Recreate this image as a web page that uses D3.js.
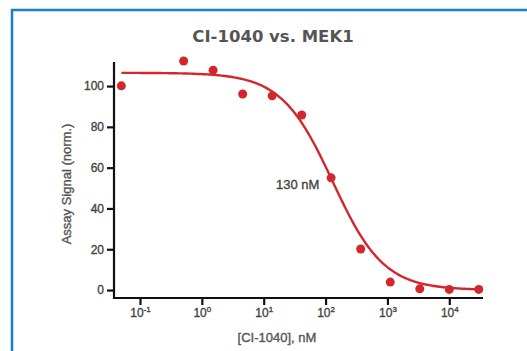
<!DOCTYPE html>
<html>
<head>
<meta charset="utf-8">
<script src="https://cdn.jsdelivr.net/npm/d3@7"></script>
<style>
  body { margin: 0; background: #fff; }
  svg { display: block; font-family: "Liberation Sans", Arial, sans-serif; }
</style>
</head>
<body>
<div id="chart"></div>
<script>
// concentrations (nM) and normalised signal
const conc = [0.05, 0.508, 1.52, 4.57, 13.7, 41.2, 123, 370, 1111, 3333, 10000, 30000];
const signal = [100.1, 112.3, 107.8, 96.1, 95.2, 85.8, 55, 20.1, 3.9, 0.6, 0.3, 0.3];
// fitted dose-response (4PL) parameters
const fitTop = 106.5, fitBottom = 0, fitIC50 = 130, fitHill = 1.05;
const yTicks = [0, 20, 40, 60, 80, 100];
const xTickExp = [-1, 0, 1, 2, 3, 4];

const W = 527, H = 351;
const svg = d3.select("#chart").append("svg").attr("width", W).attr("height", H);

// blue frame
svg.append("path")
  .attr("d", "M12,351 V10 H527")
  .attr("fill", "none").attr("stroke", "#1a7fc6").attr("stroke-width", 2.5);

const x = d3.scaleLog().domain([Math.pow(10, -1.42), Math.pow(10, 4.545)]).range([114, 483]);
const y = d3.scaleLinear().domain([-3.9, 111.8]).range([298, 62]);

// medium-weight text helper (normal face with a thin outline)
function med(sel, size, col) {
  return sel.attr("font-size", size).attr("fill", col).attr("stroke", col)
    .attr("stroke-width", 0.35).attr("font-weight", "normal")
    .attr("font-family", "Liberation Sans, Arial, sans-serif");
}

// title
svg.append("text").attr("x", 273).attr("y", 42).attr("text-anchor", "middle")
  .attr("font-family", "DejaVu Sans, Verdana, sans-serif")
  .attr("font-size", 16.5).attr("font-weight", "bold").attr("fill", "#555")
  .text("CI-1040 vs. MEK1");

// y axis
const yAx = svg.append("g").attr("transform", "translate(114,0)")
  .call(d3.axisLeft(y).tickValues(yTicks).tickSize(7).tickSizeOuter(0).tickPadding(3));
// x axis
const xAx = svg.append("g").attr("transform", "translate(0,298)")
  .call(d3.axisBottom(x).tickValues(xTickExp.map(e => Math.pow(10, e))).tickSize(7).tickSizeOuter(0).tickFormat(""));

[yAx, xAx].forEach(g => {
  g.select(".domain").attr("stroke", "#111").attr("stroke-width", 2.2);
  g.selectAll(".tick line").attr("stroke", "#111").attr("stroke-width", 2.2);
});
med(yAx.selectAll(".tick text"), 12, "#444");
xAx.select(".domain").attr("d", "M114,0H483");
yAx.select(".domain").attr("d", "M0,62V299");

// x tick labels as powers of ten
xAx.selectAll(".tick").each(function(d, i) {
  const t = med(d3.select(this).append("text").attr("y", 19).attr("text-anchor", "middle"), 12, "#444");
  t.append("tspan").text("10");
  t.append("tspan").attr("font-size", 8).attr("dy", -5).text(xTickExp[i] < 0 ? "-" + Math.abs(xTickExp[i]) : xTickExp[i]);
});

// axis titles
med(svg.append("text").attr("transform", "translate(71,184) rotate(-90)")
  .attr("text-anchor", "middle"), 13, "#555")
  .text("Assay Signal (norm.)");
med(svg.append("text").attr("x", 277).attr("y", 342).attr("text-anchor", "middle"), 13, "#555")
  .text("[CI-1040], nM");

// fitted curve
const fit = c => fitBottom + (fitTop - fitBottom) / (1 + Math.pow(c / fitIC50, fitHill));
const lx = d3.range(0, 201).map(i => Math.log10(conc[0]) + i / 200 * (Math.log10(conc[conc.length - 1]) - Math.log10(conc[0])));
svg.append("path")
  .datum(lx.map(l => Math.pow(10, l)))
  .attr("fill", "none").attr("stroke", "#d3262d").attr("stroke-width", 2.4)
  .attr("d", d3.line().x(c => x(c)).y(c => y(fit(c))));

// data points
svg.selectAll("circle.pt").data(conc).enter().append("circle")
  .attr("class", "pt")
  .attr("cx", c => x(c)).attr("cy", (c, i) => y(signal[i])).attr("r", 4.5)
  .attr("fill", "#d3262d");

// IC50 label
med(svg.append("text").attr("x", 276).attr("y", 189), 13, "#444").text("130 nM");
</script>
</body>
</html>
